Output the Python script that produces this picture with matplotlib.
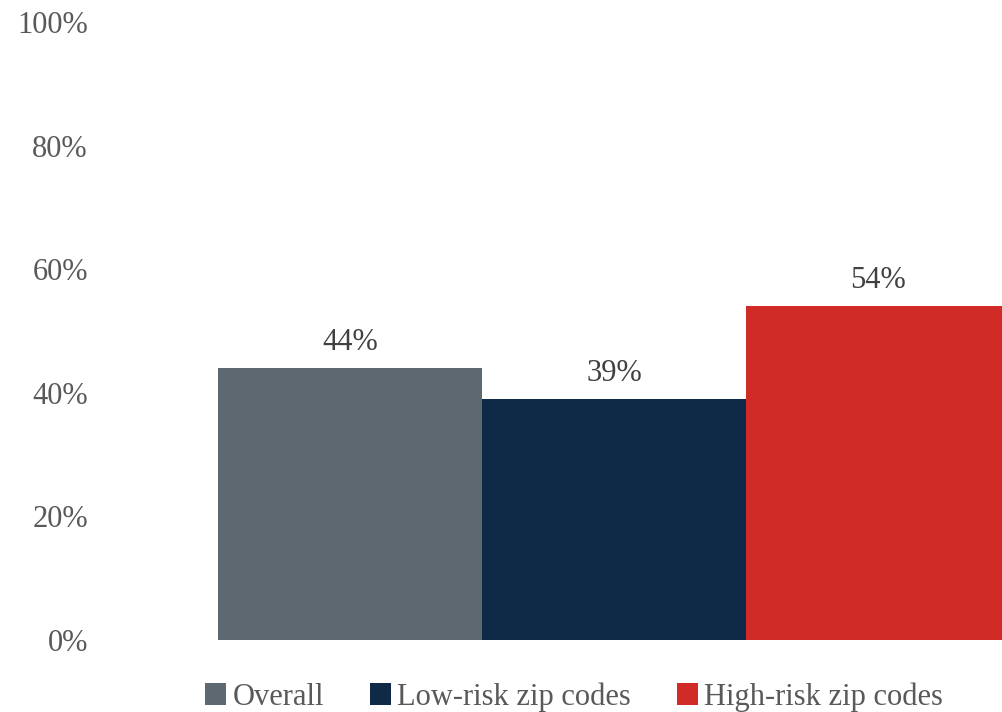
import matplotlib.pyplot as plt
from matplotlib.patches import Patch

# share of respondents per group
groups = ['Overall', 'Low-risk zip codes', 'High-risk zip codes']
values = [44, 39, 54]
colors = ['#5D6870', '#0E2A47', '#D12B28']
yticks = [0, 20, 40, 60, 80, 100]

plt.rcParams['font.family'] = ['Liberation Serif', 'DejaVu Serif']

fig = plt.figure(figsize=(10.03, 7.12), dpi=100)
W, H = 1003, 712
# axes box in pixels: left 110, right 1003, y=0 at 640, y=100 at 22
ax = fig.add_axes([110 / W, 1 - 640 / H, (1003 - 110) / W, (640 - 22) / H])

xs = [-1, 0, 1]
ax.bar(xs, values, width=1.0, color=colors)

for x, v in zip(xs, values):
    ax.annotate(f'{v}%', (x, v), xytext=(0, 8), textcoords='offset points',
                ha='center', va='bottom', fontsize=22, color='#404040')

ax.set_ylim(0, 100)
ax.set_xlim((110 - 614) / 264, (1003 - 614) / 264)
ax.set_yticks(yticks)
ax.set_yticklabels([f'{t}%' for t in yticks], fontsize=22, color='#595959')
ax.tick_params(axis='y', length=0, pad=16)
ax.set_xticks([])
for s in ax.spines.values():
    s.set_visible(False)

handles = [Patch(facecolor=c, label=g) for g, c in zip(groups, colors)]
fig.legend(handles=handles, loc='center', bbox_to_anchor=(574 / W, 1 - 697 / H),
           ncol=3, frameon=False, fontsize=22, handlelength=0.7, handleheight=0.7,
           handletextpad=0.2, columnspacing=1.5, labelcolor='#595959')

fig.savefig('out.png', dpi=100)
